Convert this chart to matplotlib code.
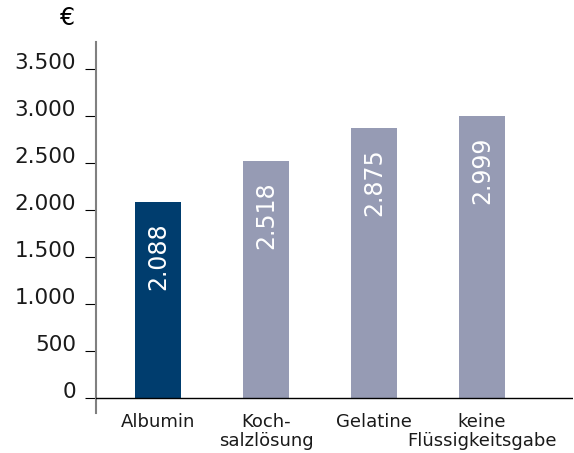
import numpy as np
import matplotlib
matplotlib.use('Agg')
import matplotlib.pyplot as plt
from matplotlib.transforms import ScaledTranslation

categories = ['Albumin', 'Koch-\nsalzlösung', 'Gelatine', 'keine\nFlüssigkeitsgabe']
costs = [2088, 2518, 2875, 2999]
value_labels = ['2.088', '2.518', '2.875', '2.999']
yticks = [0, 500, 1000, 1500, 2000, 2500, 3000, 3500]
ytick_labels = ['0', '500', '1.000', '1.500', '2.000', '2.500', '3.000', '3.500']
colors = ['#003d6e', '#969bb4', '#969bb4', '#969bb4']

plt.rcParams['font.family'] = ['DejaVu Sans']

fig = plt.figure(figsize=(5.74, 4.53), dpi=100)
ax = fig.add_axes([96/574, 40/453, 477/574, 371/453])

x = np.arange(len(categories))
ax.bar(x, costs, width=0.426, color=colors, zorder=2)

for xi, v, lab in zip(x, costs, value_labels):
    ax.text(xi, v - 215, lab, rotation=90, ha='center', va='top',
            color='white', fontsize=17)

ax.axhline(0, color='black', lw=1, zorder=3)

ax.set_xlim(-0.574, 3.843)
ax.set_ylim(-160, 3787)

# y tick labels sit a little above their tick marks
ax.set_yticks(yticks)
ax.set_yticklabels([])
ax.tick_params(axis='y', length=8, width=0.8, color='black')
trans = ax.get_yaxis_transform() + ScaledTranslation(-20/100, 6/100, fig.dpi_scale_trans)
for yv, lab in zip(yticks, ytick_labels):
    ax.text(0, yv, lab, transform=trans, ha='right', va='center',
            fontsize=15.5, color='#1a1a1a')

ax.set_xticks(x)
ax.set_xticklabels(categories, fontsize=13, color='#1a1a1a', linespacing=1.1)
ax.tick_params(axis='x', length=0, pad=0)

for s in ['top', 'right', 'bottom']:
    ax.spines[s].set_visible(False)
ax.spines['left'].set_color('#808080')
ax.spines['left'].set_linewidth(1.5)

fig.text(68/574, 1 - 18/453, '€', fontsize=17, ha='center', va='center')

fig.savefig('out.png', dpi=100)
